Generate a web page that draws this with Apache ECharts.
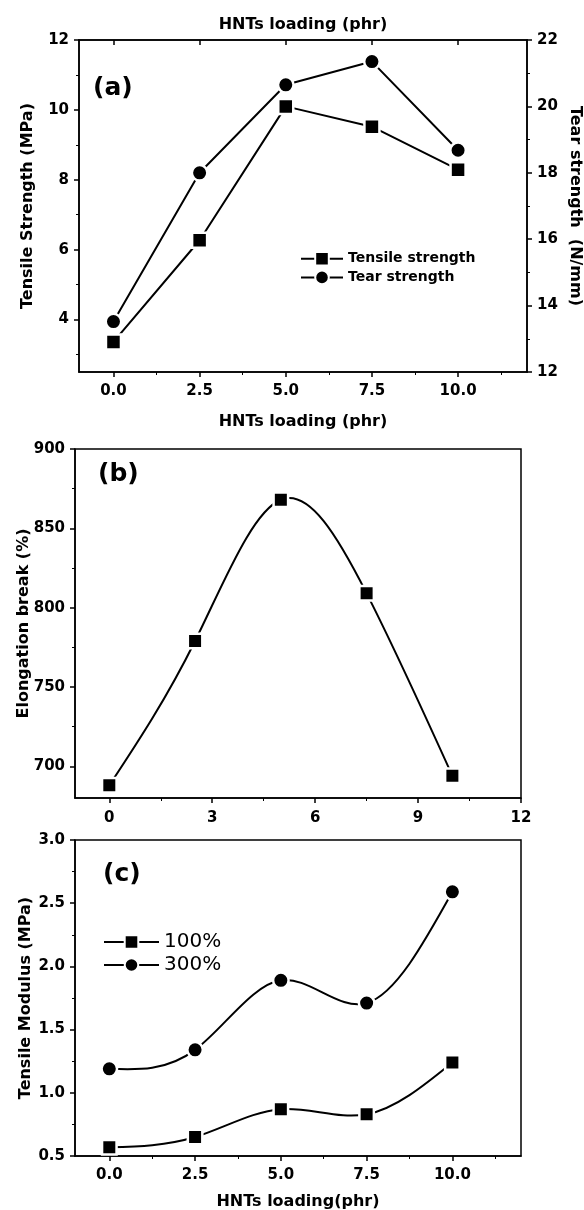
<!DOCTYPE html>
<html lang="en">
<head>
<meta charset="UTF-8">
<title>HNTs loading</title>
<style>
  html, body { margin: 0; padding: 0; background: #fff; }
  #main { width: 584px; height: 1210px; }
</style>
</head>
<body>
<div id="main"></div>
<script src="https://cdn.jsdelivr.net/npm/echarts@6/dist/echarts.min.js"></script>
<script>
// values
const loading = [0, 2.5, 5, 7.5, 10];
const tensileStrength = [3.36, 6.27, 10.1, 9.52, 8.29];
const tearStrength = [13.52, 18.0, 20.65, 21.35, 18.68];
const elongation = [688, 779, 868, 809, 694];
const modulus100 = [0.57, 0.65, 0.87, 0.83, 1.24];
const modulus300 = [1.19, 1.34, 1.89, 1.71, 2.59];

// tick positions
const ticksX = [0, 2.5, 5, 7.5, 10];
const minorX = [1.25, 3.75, 6.25, 8.75, 11.25];
const ticksXb = [0, 3, 6, 9, 12];
const minorXb = [1.5, 4.5, 7.5, 10.5];
const ticksTensile = [4, 6, 8, 10, 12];
const minorTensile = [3, 5, 7, 9, 11];
const minorTear = [13, 15, 17, 19, 21];
const ticksElong = [700, 750, 800, 850, 900];
const minorElong = [725, 775, 825, 875];
const minorModulus = [0.75, 1.25, 1.75, 2.25, 2.75];

const FONT = 'DejaVu Sans';
const tickFont = { color: '#000', fontFamily: FONT, fontWeight: 'bold', fontSize: 15 };
const nameFont = { color: '#000', fontFamily: FONT, fontWeight: 'bold', fontSize: 16 };
const black = '#000';

function pairs(xs, ys) {
    return xs.map((x, i) => [x, ys[i]]);
}

// spline connection like the original plot: natural cubic spline, drawn as bezier segments
function splineRender(xs, ys) {
    return function (params, api) {
        if (params.dataIndex !== 0) return null;
        const n = xs.length;
        const h = [], l = [1], mu = [0], z = [0], c = [], b = [], d = [];
        for (let i = 0; i < n - 1; i++) h[i] = xs[i + 1] - xs[i];
        for (let i = 1; i < n - 1; i++) {
            const alpha = 3 / h[i] * (ys[i + 1] - ys[i]) - 3 / h[i - 1] * (ys[i] - ys[i - 1]);
            l[i] = 2 * (xs[i + 1] - xs[i - 1]) - h[i - 1] * mu[i - 1];
            mu[i] = h[i] / l[i];
            z[i] = (alpha - h[i - 1] * z[i - 1]) / l[i];
        }
        c[n - 1] = 0;
        for (let j = n - 2; j >= 0; j--) {
            c[j] = (j === 0 ? 0 : z[j]) - (j === 0 ? 0 : mu[j]) * c[j + 1];
            b[j] = (ys[j + 1] - ys[j]) / h[j] - h[j] * (c[j + 1] + 2 * c[j]) / 3;
            d[j] = (c[j + 1] - c[j]) / (3 * h[j]);
        }
        const p0 = api.coord([xs[0], ys[0]]);
        let path = 'M' + p0[0] + ' ' + p0[1];
        for (let j = 0; j < n - 1; j++) {
            const hj = h[j];
            const endSlope = b[j] + 2 * c[j] * hj + 3 * d[j] * hj * hj;
            const c1 = api.coord([xs[j] + hj / 3, ys[j] + b[j] * hj / 3]);
            const c2 = api.coord([xs[j + 1] - hj / 3, ys[j + 1] - endSlope * hj / 3]);
            const p = api.coord([xs[j + 1], ys[j + 1]]);
            path += ' C' + c1[0] + ' ' + c1[1] + ' ' + c2[0] + ' ' + c2[1] + ' ' + p[0] + ' ' + p[1];
        }
        return {
            type: 'path',
            shape: { pathData: path },
            style: { fill: null, stroke: black, lineWidth: 2 }
        };
    };
}

function mainAxis(extra) {
    return Object.assign({
        type: 'value',
        splitLine: { show: false },
        axisLine: { show: true, onZero: false, lineStyle: { color: black, width: 1.5 } },
        axisTick: { show: true, inside: false, length: 5, lineStyle: { color: black, width: 1.5 } },
        axisLabel: Object.assign({ margin: 10 }, tickFont),
        nameTextStyle: nameFont,
        nameLocation: 'middle',
        nameMoveOverlap: false
    }, extra);
}

function minorAxis(extra, values) {
    return Object.assign({
        type: 'value',
        splitLine: { show: false },
        axisLine: { show: false, onZero: false },
        axisLabel: { show: false },
        axisTick: { show: true, inside: false, length: 3, customValues: values, lineStyle: { color: black, width: 1 } }
    }, extra);
}

const lineStyle = { color: black, width: 2 };
const hiddenLine = { color: black, width: 2, opacity: 0 };
const markStyle = { color: black, borderColor: '#fff', borderWidth: 2.5 };

const chart = echarts.init(document.getElementById('main'));

const option = {
    animation: false,
    backgroundColor: '#fff',
    grid: [
        { left: 79, top: 40, width: 448, height: 332, show: true, borderColor: black, borderWidth: 1.5, outerBoundsMode: 'none' },
        { left: 75, top: 449, width: 446, height: 349, show: true, borderColor: black, borderWidth: 1.5, outerBoundsMode: 'none' },
        { left: 75, top: 840, width: 446, height: 316, show: true, borderColor: black, borderWidth: 1.5, outerBoundsMode: 'none' }
    ],
    xAxis: [
        mainAxis({
            gridIndex: 0, position: 'bottom', min: -1, max: 12,
            axisTick: { show: true, length: 5, customValues: ticksX, lineStyle: { color: black, width: 1.5 } },
            axisLabel: Object.assign({ margin: 12, customValues: ticksX, formatter: v => v.toFixed(1) }, tickFont),
            name: 'HNTs loading (phr)', nameGap: 42
        }),
        mainAxis({
            gridIndex: 0, position: 'top', min: -1, max: 12,
            axisTick: { show: true, inside: true, length: 5, customValues: ticksX, lineStyle: { color: black, width: 1.5 } },
            axisLabel: { show: false },
            name: 'HNTs loading (phr)', nameGap: 7
        }),
        minorAxis({ gridIndex: 0, position: 'bottom', min: -1, max: 12 }, minorX),
        mainAxis({
            gridIndex: 1, position: 'bottom', min: -1, max: 12,
            axisTick: { show: true, length: 5, customValues: ticksXb, lineStyle: { color: black, width: 1.5 } },
            axisLabel: Object.assign({ margin: 13, customValues: ticksXb }, tickFont)
        }),
        minorAxis({ gridIndex: 1, position: 'bottom', min: -1, max: 12 }, minorXb),
        mainAxis({
            gridIndex: 2, position: 'bottom', min: -1, max: 12,
            axisTick: { show: true, length: 5, customValues: ticksX, lineStyle: { color: black, width: 1.5 } },
            axisLabel: Object.assign({ margin: 12, customValues: ticksX, formatter: v => v.toFixed(1) }, tickFont),
            name: 'HNTs loading(phr)', nameGap: 38
        }),
        minorAxis({ gridIndex: 2, position: 'bottom', min: -1, max: 12 }, minorX)
    ],
    yAxis: [
        mainAxis({
            gridIndex: 0, position: 'left', min: 2.5, max: 12,
            axisTick: { show: true, length: 5, customValues: ticksTensile, lineStyle: { color: black, width: 1.5 } },
            axisLabel: Object.assign({ margin: 10, customValues: ticksTensile }, tickFont),
            name: 'Tensile Strength (MPa)', nameGap: 43
        }),
        mainAxis({
            gridIndex: 0, position: 'right', min: 12, max: 22, interval: 2,
            name: 'Tear strength  (N/mm)', nameGap: 40, nameRotate: -90
        }),
        minorAxis({ gridIndex: 0, position: 'left', min: 2.5, max: 12 }, minorTensile),
        minorAxis({ gridIndex: 0, position: 'right', min: 12, max: 22 }, minorTear),
        mainAxis({
            gridIndex: 1, position: 'left', min: 680, max: 900,
            axisTick: { show: true, length: 5, customValues: ticksElong, lineStyle: { color: black, width: 1.5 } },
            axisLabel: Object.assign({ margin: 10, customValues: ticksElong }, tickFont),
            name: 'Elongation break (%)', nameGap: 43
        }),
        minorAxis({ gridIndex: 1, position: 'left', min: 680, max: 900 }, minorElong),
        mainAxis({
            gridIndex: 2, position: 'left', min: 0.5, max: 3, interval: 0.5,
            axisLabel: Object.assign({ margin: 10, formatter: v => v.toFixed(1) }, tickFont),
            name: 'Tensile Modulus (MPa)', nameGap: 41
        }),
        minorAxis({ gridIndex: 2, position: 'left', min: 0.5, max: 3 }, minorModulus)
    ],
    legend: [
        {
            left: 300, top: 251, padding: 0, orient: 'vertical', itemWidth: 42, itemHeight: 17, itemGap: 3,
            selectedMode: false,
            data: ['Tensile strength', 'Tear strength'],
            textStyle: { color: black, fontFamily: FONT, fontWeight: 'bold', fontSize: 14 }
        },
        {
            left: 103, top: 932, padding: 0, orient: 'vertical', itemWidth: 55, itemHeight: 17, itemGap: 3,
            selectedMode: false,
            data: ['100%', '300%'],
            lineStyle: { color: black, width: 2, opacity: 1 },
            textStyle: { color: black, fontFamily: FONT, fontSize: 20 }
        }
    ],
    graphic: [
        { type: 'text', left: 93, top: 76, style: { text: '(a)', font: 'bold 25px "DejaVu Sans"', fill: black } },
        { type: 'text', left: 98, top: 462, style: { text: '(b)', font: 'bold 25px "DejaVu Sans"', fill: black } },
        { type: 'text', left: 103, top: 862, style: { text: '(c)', font: 'bold 25px "DejaVu Sans"', fill: black } }
    ],
    series: [
        {
            name: 'Tensile strength', type: 'line', xAxisIndex: 0, yAxisIndex: 0,
            data: pairs(loading, tensileStrength), z: 3,
            symbol: 'rect', symbolSize: 15, lineStyle: lineStyle, itemStyle: markStyle
        },
        {
            name: 'Tear strength', type: 'line', xAxisIndex: 0, yAxisIndex: 1,
            data: pairs(loading, tearStrength), z: 3,
            symbol: 'circle', symbolSize: 15.5, lineStyle: lineStyle, itemStyle: markStyle
        },
        {
            type: 'custom', xAxisIndex: 3, yAxisIndex: 4, z: 1,
            data: pairs(loading, elongation), renderItem: splineRender(loading, elongation)
        },
        {
            name: 'Elongation', type: 'line', xAxisIndex: 3, yAxisIndex: 4,
            data: pairs(loading, elongation), z: 3,
            symbol: 'rect', symbolSize: 14.5, lineStyle: hiddenLine, itemStyle: markStyle
        },
        {
            type: 'custom', xAxisIndex: 5, yAxisIndex: 6, z: 1,
            data: pairs(loading, modulus100), renderItem: splineRender(loading, modulus100)
        },
        {
            type: 'custom', xAxisIndex: 5, yAxisIndex: 6, z: 1,
            data: pairs(loading, modulus300), renderItem: splineRender(loading, modulus300)
        },
        {
            name: '100%', type: 'line', xAxisIndex: 5, yAxisIndex: 6,
            data: pairs(loading, modulus100), z: 3,
            symbol: 'rect', symbolSize: 14.5, lineStyle: hiddenLine, itemStyle: markStyle
        },
        {
            name: '300%', type: 'line', xAxisIndex: 5, yAxisIndex: 6,
            data: pairs(loading, modulus300), z: 3,
            symbol: 'circle', symbolSize: 15.5, lineStyle: hiddenLine, itemStyle: markStyle
        }
    ]
};

chart.setOption(option);
</script>
</body>
</html>
